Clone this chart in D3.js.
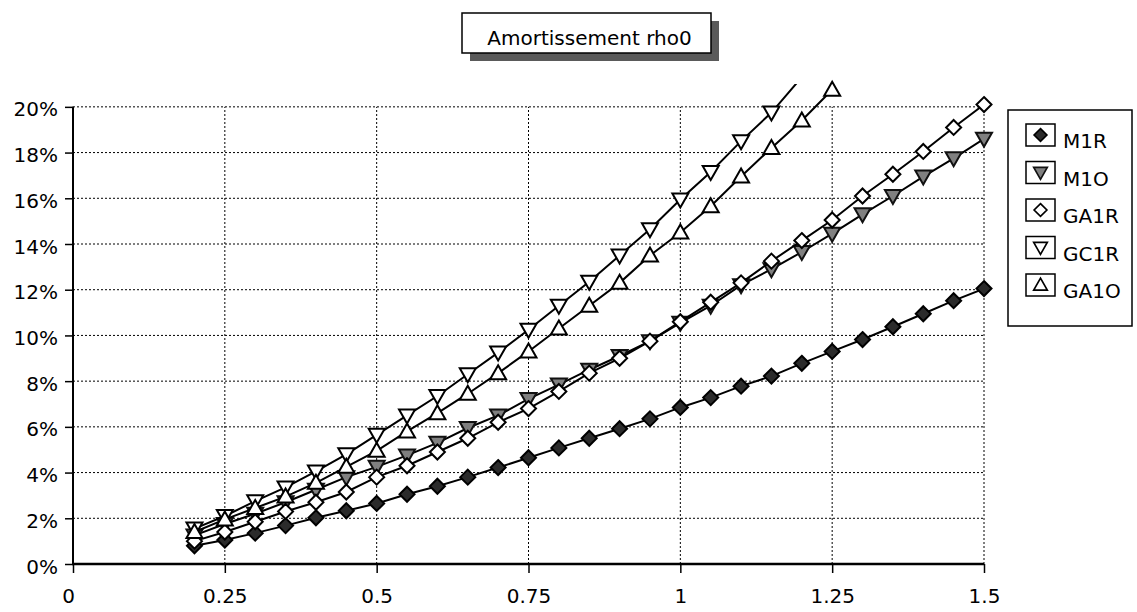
<!DOCTYPE html>
<html><head><meta charset="utf-8">
<script src="https://cdn.jsdelivr.net/npm/d3@7"></script>
<style>
body{margin:0;background:#fff}
svg{display:block}
text{font-family:"DejaVu Sans",sans-serif;fill:#000}
</style>
</head><body>
<svg id="c" width="1137" height="612"></svg>
<script>
// ---- data (values in %) ----
const xValues = [0.2,0.25,0.3,0.35,0.4,0.45,0.5,0.55,0.6,0.65,0.7,0.75,0.8,0.85,0.9,0.95,1.0,1.05,1.1,1.15,1.2,1.25,1.3,1.35,1.4,1.45,1.5];
const M1R  = [0.8,1.05,1.35,1.68,2.02,2.33,2.65,3.05,3.4,3.8,4.22,4.65,5.08,5.5,5.92,6.35,6.85,7.28,7.78,8.22,8.78,9.3,9.82,10.38,10.95,11.52,12.05];
const M1O  = [1.25,1.75,2.2,2.7,3.25,3.8,4.25,4.75,5.3,5.95,6.5,7.22,7.85,8.5,9.1,9.75,10.55,11.3,12.2,12.9,13.65,14.45,15.3,16.1,16.95,17.75,18.6];
const GA1R = [1.0,1.4,1.85,2.3,2.7,3.15,3.8,4.3,4.9,5.5,6.2,6.8,7.55,8.35,9.0,9.75,10.6,11.45,12.3,13.25,14.15,15.05,16.1,17.05,18.05,19.1,20.1];
const GC1R = [1.55,2.1,2.75,3.35,4.05,4.8,5.65,6.5,7.35,8.3,9.25,10.25,11.3,12.35,13.5,14.65,15.95,17.15,18.5,19.75,21.3];
const GA1O = [1.4,1.95,2.45,2.95,3.55,4.25,4.95,5.8,6.6,7.45,8.35,9.3,10.3,11.3,12.3,13.5,14.5,15.65,16.95,18.2,19.4,20.75];
const seriesNames = ["M1R","M1O","GA1R","GC1R","GA1O"];
const xTicks = [0,0.25,0.5,0.75,1,1.25,1.5];
const xTickLabels = ["0","0.25","0.5","0.75","1","1.25","1.5"];
const yTicks = [0,2,4,6,8,10,12,14,16,18,20];
const yTickLabels = ["0%","2%","4%","6%","8%","10%","12%","14%","16%","18%","20%"];
const titleText = "Amortissement rho0";

// ---- layout ----
const svg = d3.select("#c");
const L = 73, R = 984, B = 564, T = 84;
const x = d3.scaleLinear().domain([0,1.5]).range([L,R]);
const y = d3.scaleLinear().domain([0,21]).range([B,T]);

const seriesValues = [M1R,M1O,GA1R,GC1R,GA1O];
const styles = {
  M1R:  {shape:"diamond", fill:"#2b2b2b", stroke:"#000"},
  M1O:  {shape:"down",    fill:"#808080", stroke:"#111"},
  GA1R: {shape:"diamond", fill:"#fff",    stroke:"#000"},
  GC1R: {shape:"down",    fill:"#fff",    stroke:"#000"},
  GA1O: {shape:"up",      fill:"#fff",    stroke:"#000"}
};
function shapePath(s){
  if(s==="diamond") return "M0,-7.5L7.5,0L0,7.5L-7.5,0Z";
  if(s==="down") return "M-8,-6L8,-6L0,8Z";
  return "M0,-8L8,6L-8,6Z";
}

// clip
svg.append("defs").append("clipPath").attr("id","plot")
  .append("rect").attr("x",L).attr("y",T).attr("width",R-L).attr("height",B-T);

// gridlines
const grid = svg.append("g");
grid.selectAll("line.h").data(yTicks.filter(d=>d>0)).join("line")
  .attr("x1",L).attr("x2",R).attr("y1",d=>y(d)).attr("y2",d=>y(d))
  .attr("stroke","#000").attr("stroke-width",1).attr("stroke-dasharray","2,2");
grid.selectAll("line.v").data(xTicks.filter(d=>d>0)).join("line")
  .attr("x1",d=>x(d)).attr("x2",d=>x(d)).attr("y1",B).attr("y2",y(20))
  .attr("stroke","#000").attr("stroke-width",1).attr("stroke-dasharray","2,2");

// axes
const xAxis = d3.axisBottom(x).tickValues(xTicks).tickFormat((d,i)=>xTickLabels[i]).tickSize(9).tickPadding(16);
const gx = svg.append("g").attr("transform",`translate(0,${B})`).call(xAxis);
gx.select(".domain").remove();
gx.selectAll(".tick line").attr("stroke","#000").attr("stroke-width",1.5);
gx.selectAll(".tick text").attr("font-size",20).attr("font-family","DejaVu Sans");
gx.selectAll(".tick").filter(d=>d===0).select("text").attr("dx",-5);

const yAxis = d3.axisLeft(y).tickValues(yTicks).tickFormat((d,i)=>yTickLabels[i]).tickSize(8).tickPadding(7);
const gy = svg.append("g").attr("transform",`translate(${L},0)`).call(yAxis);
gy.select(".domain").remove();
gy.selectAll(".tick line").attr("stroke","#000").attr("stroke-width",1.5);
gy.selectAll(".tick text").attr("font-size",20).attr("font-family","DejaVu Sans").attr("dy","0.45em");

svg.append("line").attr("x1",L).attr("x2",L).attr("y1",B+1).attr("y2",y(20))
  .attr("stroke","#000").attr("stroke-width",2);
svg.append("line").attr("x1",L-1).attr("x2",R).attr("y1",B).attr("y2",B)
  .attr("stroke","#000").attr("stroke-width",2.5);

// series
const line = d3.line().x(d=>x(d[0])).y(d=>y(d[1]));
seriesNames.forEach((name,i)=>{
  const pts = seriesValues[i].map((v,j)=>[xValues[j],v]);
  const st = styles[name];
  svg.append("path").datum(pts).attr("d",line).attr("clip-path","url(#plot)")
    .attr("fill","none").attr("stroke","#000").attr("stroke-width",2);
  svg.append("g").selectAll("path").data(pts.filter(p=>p[1]<=21)).join("path")
    .attr("d",shapePath(st.shape))
    .attr("transform",p=>`translate(${x(p[0])},${y(p[1])})`)
    .attr("fill",st.fill).attr("stroke",st.stroke).attr("stroke-width",2);
});

// title
const tb = {x:462,y:13,w:249,h:40};
svg.append("rect").attr("x",tb.x+8).attr("y",tb.y+8).attr("width",tb.w).attr("height",tb.h).attr("fill","#5a5a5a");
svg.append("rect").attr("x",tb.x).attr("y",tb.y).attr("width",tb.w).attr("height",tb.h)
  .attr("fill","#fff").attr("stroke","#000").attr("stroke-width",1.5);
svg.append("text").attr("x",tb.x+tb.w/2+3).attr("y",tb.y+32).attr("text-anchor","middle")
  .attr("font-size",20).text(titleText);

// legend
const lg = {x:1008,y:110,w:124,h:216};
svg.append("rect").attr("x",lg.x).attr("y",lg.y).attr("width",lg.w).attr("height",lg.h)
  .attr("fill","#fff").attr("stroke","#000").attr("stroke-width",1.5);
seriesNames.forEach((name,i)=>{
  const cy = 140 + i*37.5;
  const st = styles[name];
  svg.append("rect").attr("x",1026).attr("y",cy-16).attr("width",29).attr("height",22)
    .attr("fill","#fff").attr("stroke","#000").attr("stroke-width",1.5);
  svg.append("path").attr("d",shapePath(st.shape)).attr("transform",`translate(1040.5,${cy-5}) scale(0.85)`)
    .attr("fill",st.fill).attr("stroke",st.stroke).attr("stroke-width",2);
  svg.append("text").attr("x",1063).attr("y",cy+8).attr("font-size",20).text(name);
});
</script>
</body></html>
